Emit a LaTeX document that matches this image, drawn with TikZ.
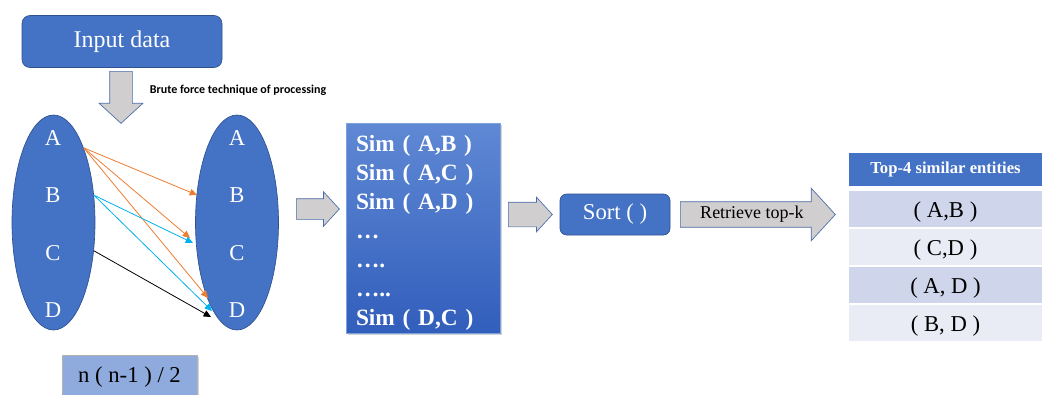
\documentclass[tikz,border=0pt]{standalone}
\usepackage{fontspec}
\setmainfont{Liberation Serif}
\newfontfamily\carlito{Carlito}
\usepackage{tikz}
\usetikzlibrary{shapes.geometric, shapes.arrows, arrows.meta, positioning, shadows}
\definecolor{accblue}{RGB}{68,114,196}
\definecolor{accbluedark}{RGB}{47,82,143}
\definecolor{simtop}{RGB}{95,137,212}
\definecolor{simbottom}{RGB}{50,94,188}
\definecolor{arrowgray}{RGB}{208,206,206}
\definecolor{arrowedge}{RGB}{74,108,170}
\definecolor{nboxblue}{RGB}{143,170,220}
\definecolor{rowdark}{RGB}{207,213,234}
\definecolor{rowlight}{RGB}{233,235,245}
\definecolor{pairorange}{RGB}{237,125,49}
\definecolor{paircyan}{RGB}{0,176,240}

\tikzset{
  bluebox/.style={fill=accblue, draw=accbluedark, line width=0.5pt, rounded corners=6pt, text=white, inner sep=0pt},
  setell/.style={ellipse, fill=accblue, draw=accbluedark, line width=0.5pt, minimum width=62.25pt, minimum height=161.25pt, inner sep=0pt},
  letter/.style={text=white, font=\fontsize{17}{20}\selectfont},
  blockarrow/.style={single arrow, fill=arrowgray, draw=arrowedge, line width=0.5pt, single arrow tip angle=95, inner xsep=0pt, anchor=tail},
  pairline/.style={line width=0.6pt, -{Triangle[length=5.5pt, width=5pt]}},
  toprow/.style={fill=#1, draw=white, line width=1pt, minimum width=146.25pt, minimum height=28.5pt, inner sep=0pt,
                 text height=16.2pt, text depth=3.7pt, font=\fontsize{17}{20}\selectfont},
  softshadow/.style={drop shadow={shadow xshift=1.5pt, shadow yshift=-1.5pt, opacity=0.35}},
}

\begin{document}
\begin{tikzpicture}[x=0.75pt, y=-0.75pt]
  \useasboundingbox (0,0) rectangle (1042,394);
  \clip (0,0) rectangle (1042,394);
  % Input and brute force step
  \node[bluebox, minimum width=150pt, minimum height=39pt, font=\fontsize{18}{21}\selectfont] (input) at (122,41.5) {Input data};
  \node[blockarrow, shape border rotate=270, inner xsep=8.25pt, inner ysep=0pt, single arrow head extend=7.9pt, minimum height=39pt] (brute) at (121,71) {};
  \node[font=\carlito\bfseries\fontsize{9}{11}\selectfont] (brutelbl) at (238,90) {Brute force technique of processing};
  % Entity sets
  \node[setell] (setL) at (53.5,222.5) {};
  \node[setell] (setR) at (237,222.5) {};
  \foreach \name/\ypos in {A/138, B/195, C/253, D/310} {
    \node[letter] (l\name) at (53,\ypos) {\name};
    \node[letter] (r\name) at (237,\ypos) {\name};
  }
  % Pair comparisons
  \coordinate (tAB) at (197,195);
  \coordinate (tAC) at (190,238);
  \coordinate (tAD) at (208,298);
  \coordinate (tBC) at (193,243);
  \coordinate (tBD) at (212,311);
  \coordinate (tCD) at (211,317);
  \draw[pairline, pairorange] (setL.68) -- (tAB);
  \draw[pairline, pairorange] (setL.68) -- (tAC);
  \draw[pairline, pairorange] (setL.68) -- (tAD);
  \draw[pairline, paircyan] (setL.34) -- (tBC);
  \draw[pairline, paircyan] (setL.34) -- (tBD);
  \draw[pairline, black] (setL.-35) -- (tCD);
  % Similarity list
  \node[blockarrow, inner ysep=7.5pt, single arrow head extend=5.25pt, minimum height=32.25pt] (toPairs) at (296,209) {};
  \node[softshadow, top color=simtop, bottom color=simbottom, draw=simtop!80!white, line width=0.4pt,
        minimum width=115.5pt, minimum height=157.5pt] (pairs) at (423,228) {};
  \node[text width=100.5pt, align=left, text=white, font=\bfseries\fontsize{17.5}{21.8}\selectfont] (pairlist) at (423,233)
    {Sim ( A,B )\\Sim ( A,C )\\Sim ( A,D )\\…\\….\\…..\\Sim ( D,C )};
  % Sorting
  \node[blockarrow, inner ysep=9pt, single arrow head extend=3.75pt, minimum height=33pt] (toSort) at (508,214.5) {};
  \node[bluebox, rounded corners=5pt, minimum width=82.5pt, minimum height=30.75pt, font=\fontsize{17}{20}\selectfont] (sort) at (615,214.5) {Sort ( )};
  \node[blockarrow, inner ysep=3.3pt, text height=9.2pt, text depth=2.9pt, single arrow head extend=10.125pt, minimum height=116.25pt,
        font=\fontsize{13.5}{16}\selectfont] (retrieve) at (680,214.5) {Retrieve top-k};
  % Result table
  \node[toprow=accblue, minimum height=26.25pt, text height=8.5pt, text depth=2.5pt, text=white, font=\bfseries\fontsize{12.5}{15}\selectfont] (hdr) at (945.5,169.5) {Top-4 similar entities};
  \node[toprow=rowdark] (row1) at (945.5,209) {( A,B )};
  \node[toprow=rowlight] (row2) at (945.5,247) {( C,D )};
  \node[toprow=rowdark] (row3) at (945.5,285) {( A, D )};
  \node[toprow=rowlight] (row4) at (945.5,323) {( B, D )};
  % Pair count
  \node[softshadow, fill=nboxblue, draw=gray!60, line width=0.5pt, minimum width=101.25pt, minimum height=33pt,
        font=\fontsize{17}{20}\selectfont] (count) at (129.5,377) {n ( n-1 ) / 2};
\end{tikzpicture}
\end{document}
